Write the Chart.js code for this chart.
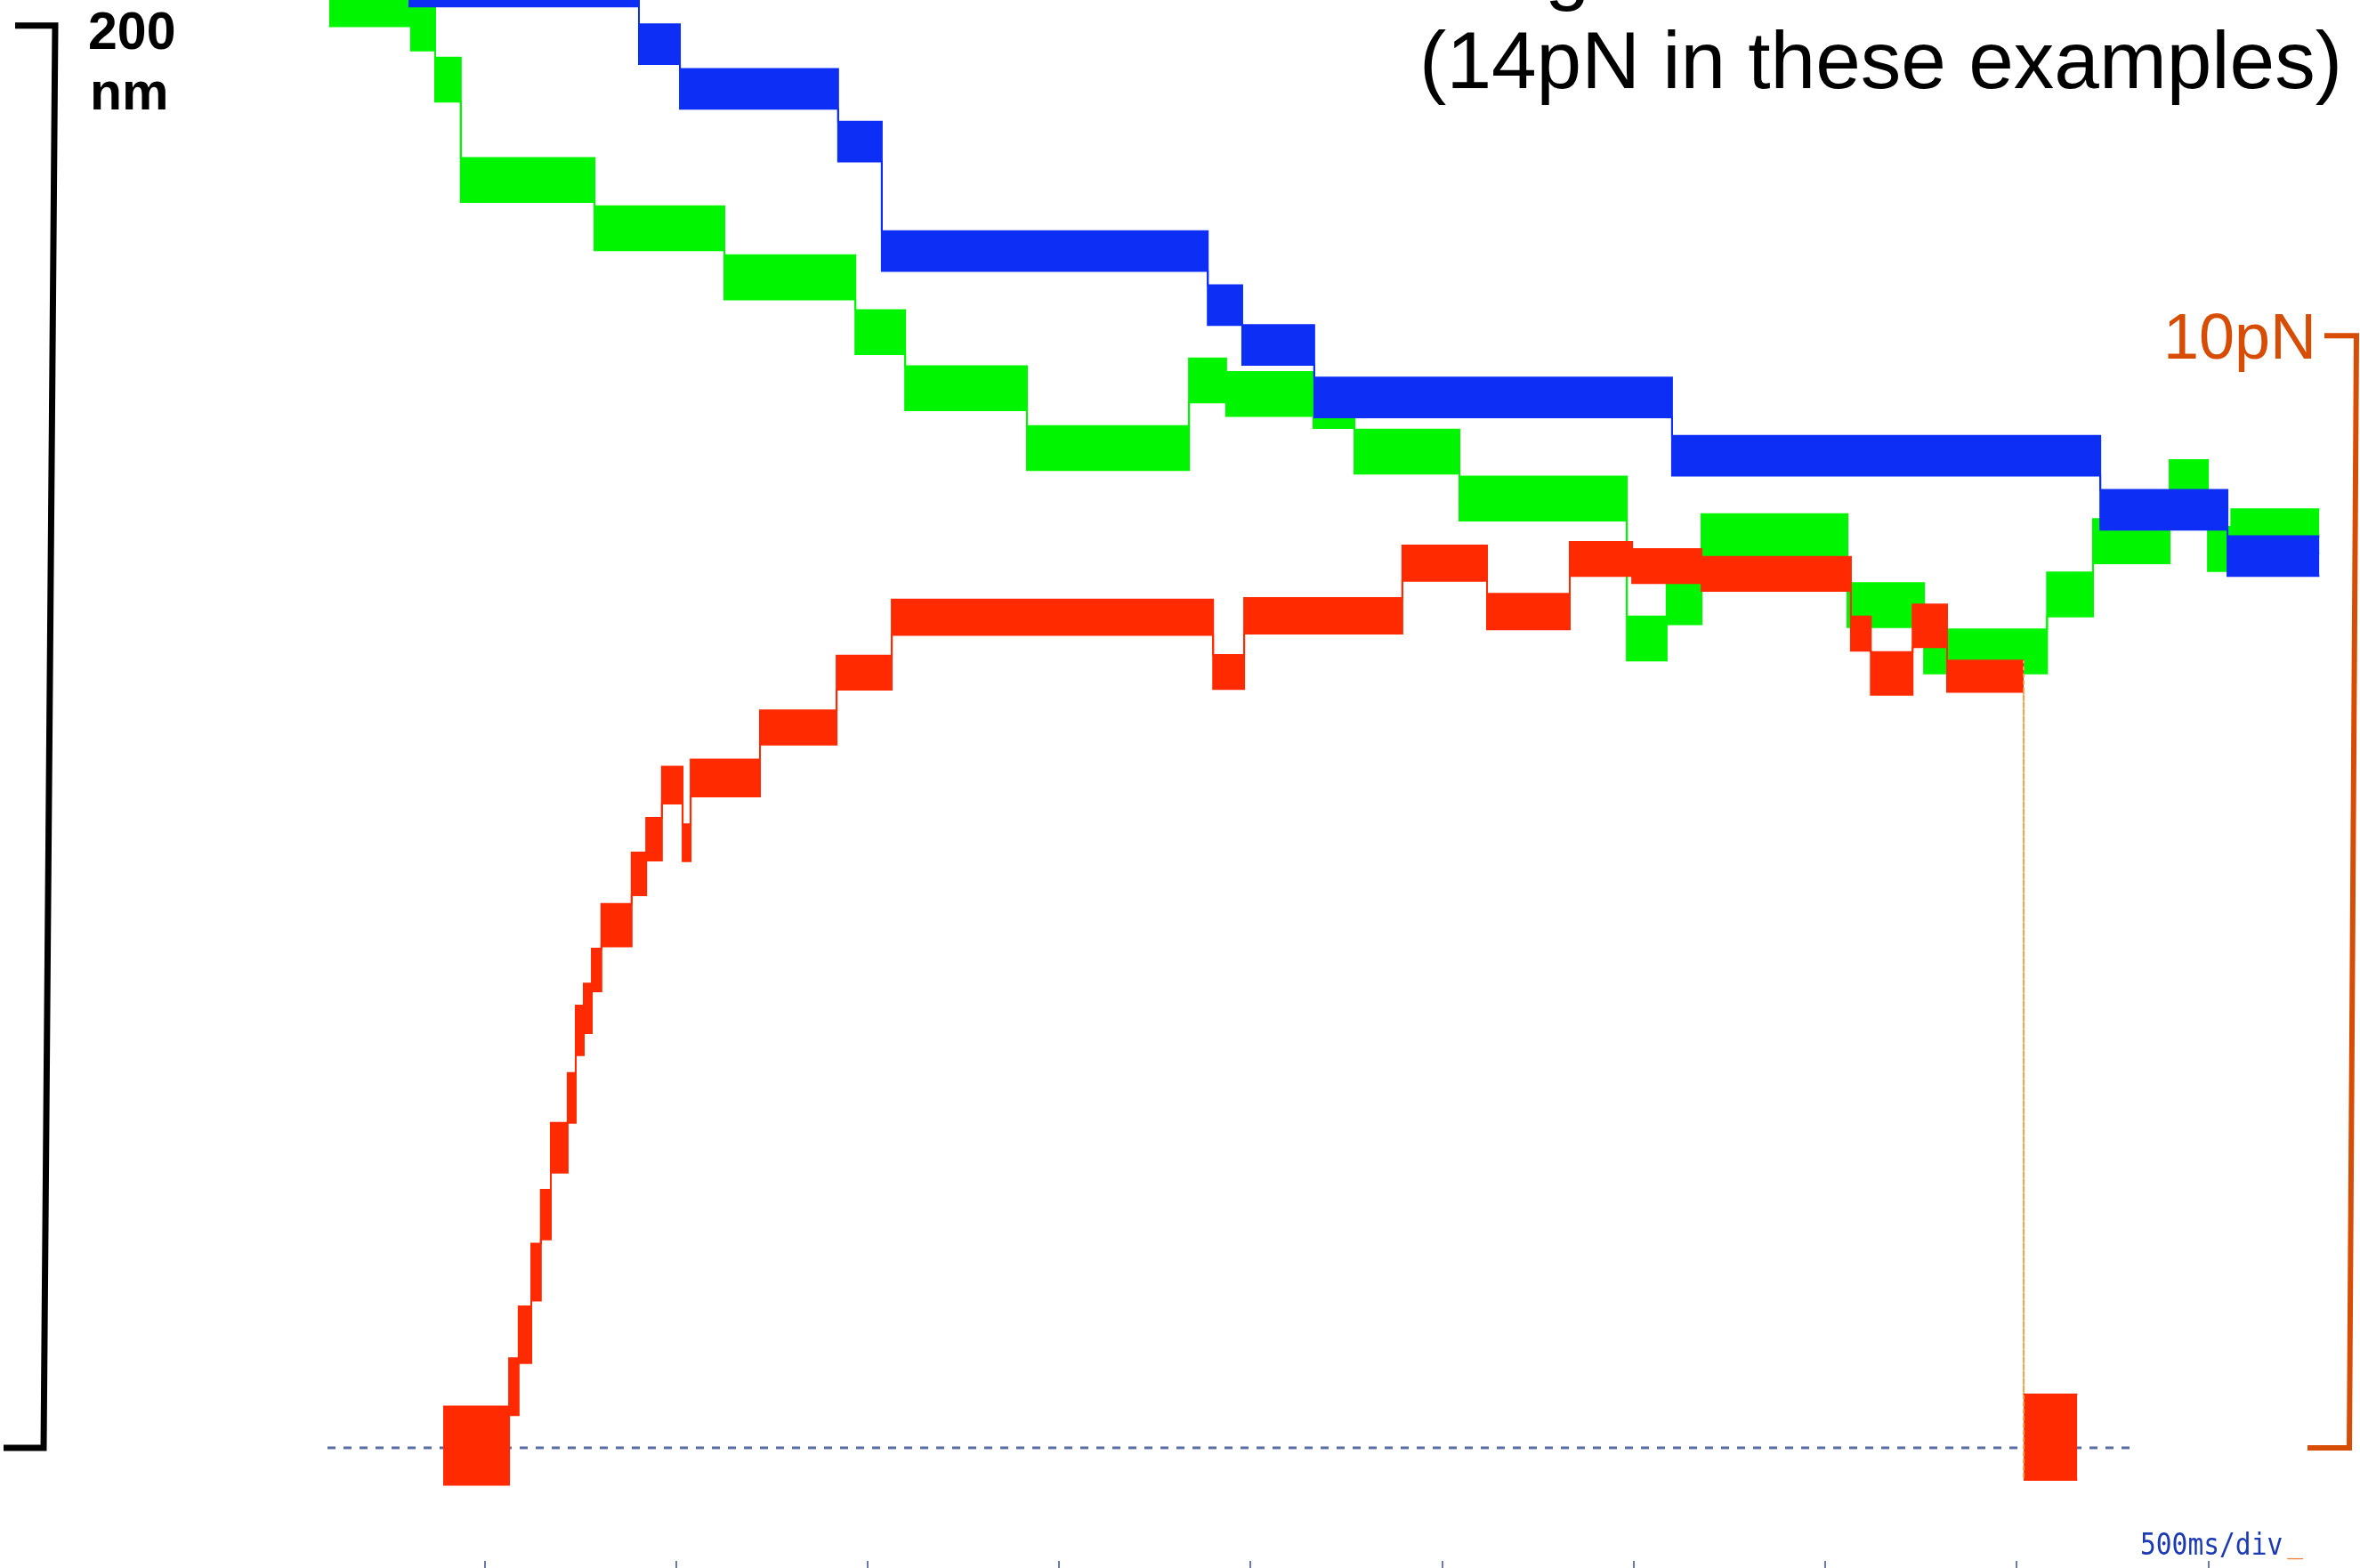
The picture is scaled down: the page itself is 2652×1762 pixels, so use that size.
<!DOCTYPE html>
<html>
<head>
<meta charset="utf-8">
<title>Stepping traces</title>
<style>
  html, body { margin: 0; padding: 0; background: #fff; }
  #wrap { width: 2652px; height: 1762px; }
</style>
</head>
<body>
<div id="wrap"><canvas id="traces" width="2652" height="1762"></canvas></div>
<script src="https://cdn.jsdelivr.net/npm/chart.js@4.4.0/dist/chart.umd.min.js"></script>
<script>
// time in ms (0 = first division mark), position in nm above the baseline
// each trace: plateau edges (n+1) and plateau levels (n), plus noise half-width
const greenEdges = [-406, -192, -129, -62, 287, 626, 968, 1098, 1416, 1839, 1936, 2164, 2271, 2545, 2982, 3086, 3177, 3558, 3758, 4079, 4199, 4399, 4499, 4560, 4790];
const greenLevels = [203, 199.6, 192.4, 178.3, 171.5, 164.6, 156.9, 149.0, 140.6, 150.1, 148.2, 146.5, 140.1, 133.5, 113.8, 118.9, 128.2, 118.5, 112.0, 120.0, 127.5, 135.8, 126.4, 128.9];
const greenNoise = 3.1;

const blueEdges = [-199, 403, 510, 923, 1037, 1888, 1978, 2166, 3100, 4218, 4550, 4790];
const blueLevels = [205.5, 197.4, 191.1, 183.7, 168.3, 160.7, 155.1, 147.7, 139.5, 131.9, 125.4];
const blueNoise = 2.8;

const redEdges = [-108, 64, 89, 122, 147, 173, 217, 238, 259, 280, 305, 384, 422, 463, 517, 538, 719, 919, 1063, 1902, 1983, 2396, 2617, 2833, 2996, 3177, 3567, 3619, 3728, 3818, 4018, 4158];
const redLevels = [0.3, 8.6, 15.9, 24.7, 32.8, 42.2, 49.2, 58.7, 61.8, 67.2, 73.5, 80.7, 85.6, 93.2, 85.1, 94.2, 101.3, 109.0, 116.8, 109.1, 117.0, 124.4, 117.6, 125.0, 124.0, 122.9, 114.5, 108.9, 115.6, 108.5, 1.5];
const redNoise = [5.5, 4, 4, 4, 3.5, 3.5, 3.5, 3.5, 3.5, 3, 3, 3, 3, 2.6, 2.6, 2.6, 2.4, 2.4, 2.5, 2.4, 2.5, 2.5, 2.5, 2.4, 2.4, 2.4, 2.4, 3, 3, 2.2, 6];

const tickTimes = [0, 500, 1000, 1500, 2000, 2500, 3000, 3500, 4000, 4500];
const baselineSpan = [-410, 4295];
const scaleBarNm = 200;
const forceBarTopNm = 156.4;

function envelope(edges, levels, noise, sign) {
  const pts = [];
  levels.forEach((lv, i) => {
    const s = Array.isArray(noise) ? noise[i] : noise;
    pts.push({ x: edges[i], y: lv + sign * s });
    pts.push({ x: edges[i + 1], y: lv + sign * s });
  });
  return pts;
}

function band(edges, levels, noise, color) {
  const common = {
    borderColor: color,
    backgroundColor: color,
    borderWidth: 2,
    pointRadius: 0,
    tension: 0,
    segment: {
      // the long jump back to the baseline is only a faint dotted line
      borderDash: ctx => Math.abs(ctx.p0.parsed.y - ctx.p1.parsed.y) > 50 ? [3, 5] : undefined,
      borderColor: ctx => Math.abs(ctx.p0.parsed.y - ctx.p1.parsed.y) > 50 ? '#f5a24a' : undefined
    }
  };
  return [
    { ...common, data: envelope(edges, levels, noise, 1), fill: false },
    { ...common, data: envelope(edges, levels, noise, -1), fill: '-1' }
  ];
}

const decorations = {
  id: 'decorations',
  afterDraw(chart) {
    const { ctx, scales: { y } } = chart;
    const zero = y.getPixelForValue(0);
    const top = y.getPixelForValue(scaleBarNm);
    const fTop = y.getPixelForValue(forceBarTopNm);
    ctx.save();
    ctx.lineJoin = 'miter';
    ctx.lineCap = 'butt';

    // 200 nm scale bar
    ctx.strokeStyle = '#000';
    ctx.lineWidth = 7;
    ctx.beginPath();
    ctx.moveTo(17, top);
    ctx.lineTo(62, top);
    ctx.lineTo(49, zero);
    ctx.lineTo(4, zero);
    ctx.stroke();
    ctx.fillStyle = '#000';
    ctx.textBaseline = 'alphabetic';
    ctx.font = 'bold 59px "Liberation Sans", Arial, sans-serif';
    ctx.textAlign = 'left';
    ctx.fillText('200', 99, 55);
    ctx.fillText('nm', 101, 123);

    // title fragment at the top right
    ctx.font = '91px "Liberation Sans", Arial, sans-serif';
    ctx.fillText('g', 1736, -6);
    ctx.textAlign = 'right';
    ctx.fillText('(14pN in these examples)', 2632, 99);

    // 10 pN bracket
    ctx.strokeStyle = '#d84d06';
    ctx.fillStyle = '#d84d06';
    ctx.lineWidth = 6;
    ctx.beginPath();
    ctx.moveTo(2612, fTop);
    ctx.lineTo(2648, fTop);
    ctx.lineTo(2640, zero);
    ctx.lineTo(2593, zero);
    ctx.stroke();
    ctx.font = '72px "Liberation Sans", Arial, sans-serif';
    ctx.fillText('10pN', 2603, 403);

    // time base label
    ctx.textAlign = 'left';
    ctx.translate(2405, 1747);
    ctx.scale(0.87, 1);
    ctx.font = '34px "DejaVu Sans Mono", "Liberation Mono", monospace';
    ctx.fillStyle = '#1c3ab4';
    ctx.fillText('500ms/div', 0, 0);
    ctx.fillStyle = '#f08a4a';
    ctx.fillText('_', 190, -3);
    ctx.restore();
  }
};

new Chart(document.getElementById('traces'), {
  type: 'line',
  data: {
    datasets: [
      ...band(redEdges, redLevels, redNoise, '#ff2a00'),
      ...band(blueEdges, blueLevels, blueNoise, '#0c2ef5'),
      ...band(greenEdges, greenLevels, greenNoise, '#00f500'),
      {
        data: [{ x: baselineSpan[0], y: 0 }, { x: baselineSpan[1], y: 0 }],
        borderColor: '#5a6ea6',
        borderWidth: 3,
        borderDash: [9, 9],
        pointRadius: 0,
        fill: false
      }
    ]
  },
  options: {
    responsive: false,
    animation: false,
    devicePixelRatio: 1,
    layout: { padding: 0 },
    plugins: { legend: { display: false }, tooltip: { enabled: false } },
    scales: {
      x: {
        type: 'linear',
        min: -1265,
        max: 4896,
        afterBuildTicks: s => { s.ticks = tickTimes.map(v => ({ value: v })); },
        ticks: { display: false },
        grid: { drawOnChartArea: false, drawTicks: true, tickLength: 8, color: '#6b7bb0', lineWidth: 2 },
        border: { display: false }
      },
      y: {
        display: false,
        min: -15.9,
        max: 203.6
      }
    }
  },
  plugins: [decorations]
});
</script>
</body>
</html>
